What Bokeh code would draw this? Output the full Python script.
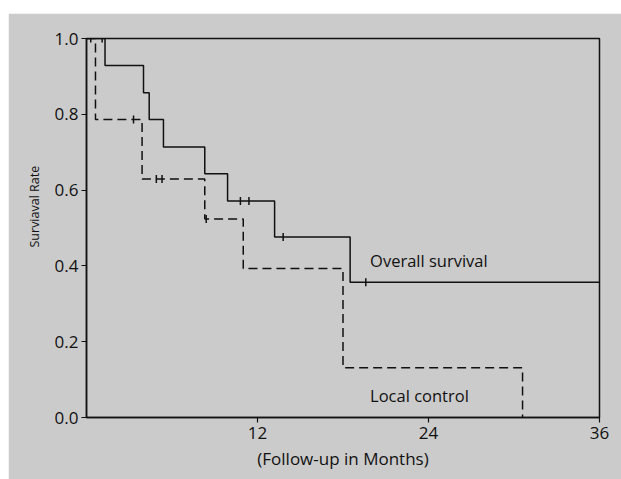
from bokeh.plotting import figure
from bokeh.models import Range1d, FixedTicker, Spacer, Title
from bokeh.layouts import column, row
from bokeh.core.properties import value
from bokeh.embed import file_html
from bokeh.resources import INLINE
import numpy as np

# Kaplan-Meier step data (months, survival rate)
overall_t = [0, 1.3, 4.0, 4.4, 5.4, 8.3, 9.9, 13.2, 18.5, 36]
overall_s = [1.0, 0.929, 0.857, 0.786, 0.714, 0.643, 0.571, 0.476, 0.357, 0.357]
overall_cens_t = [1.1, 10.8, 11.4, 13.8, 19.6]
overall_cens_s = [1.0, 0.571, 0.571, 0.476, 0.357]

local_t = [0, 0.63, 3.9, 8.3, 11.0, 18.0, 30.6]
local_s = [1.0, 0.786, 0.629, 0.524, 0.393, 0.131, 0.0]
local_cens_t = [0.3, 3.3, 4.9, 5.3, 8.4]
local_cens_s = [1.0, 0.786, 0.629, 0.629, 0.524]

x_ticks = [12, 24, 36]
y_ticks = [0.0, 0.2, 0.4, 0.6, 0.8, 1.0]
y_tick_labels = ["0.0", "0.2", "0.4", "0.6", "0.8", "1.0"]

labels_text = ["Overall survival", "Local control"]
labels_x = [19.9, 19.9]
labels_y = [0.414, 0.058]

x_title = "(Follow-up in Months)"
y_title = "Surviaval Rate"

FONT = "Open Sans"
BG = "#cbcbcb"
INK = "#111111"

p = figure(width=613, height=466, output_backend="svg", toolbar_location=None,
           x_range=Range1d(0, 36), y_range=Range1d(0, 1.0),
           min_border_left=78, min_border_right=22, min_border_top=25, min_border_bottom=62)
p.background_fill_color = BG
p.border_fill_color = BG
p.outline_line_color = INK
p.outline_line_width = 1.5
p.xgrid.visible = False
p.ygrid.visible = False

p.step(overall_t, overall_s, mode="after", line_color=INK, line_width=1.5)
p.step(local_t, local_s, mode="after", line_color=INK, line_width=1.5, line_dash="9 5")
p.scatter(overall_cens_t, overall_cens_s, marker="dash", angle=np.pi / 2, size=8,
          line_color=INK, line_width=1.5)
p.scatter(local_cens_t, local_cens_s, marker="dash", angle=np.pi / 2, size=8,
          line_color=INK, line_width=1.5)

p.text(labels_x, labels_y, text=labels_text, text_font=value(FONT), text_font_size="16.5px",
       text_color=INK, text_baseline="middle", text_align="left")

for ax in (p.xaxis[0], p.yaxis[0]):
    ax.axis_line_color = INK
    ax.axis_line_width = 1.5
    ax.major_tick_line_color = INK
    ax.major_tick_line_width = 1.2
    ax.major_tick_out = 5
    ax.major_tick_in = 0
    ax.minor_tick_line_color = None
    ax.major_label_text_font = FONT
    ax.major_label_text_font_size = "17px"
    ax.major_label_text_color = INK
    ax.axis_label_text_font = FONT
    ax.axis_label_text_font_style = "normal"
    ax.axis_label_text_color = INK

p.xaxis.ticker = FixedTicker(ticks=x_ticks)
p.yaxis.ticker = FixedTicker(ticks=y_ticks)
p.yaxis.major_label_overrides = {t: l for t, l in zip(y_ticks, y_tick_labels)}
p.xaxis.major_label_standoff = 4
p.yaxis.major_label_standoff = 3
p.xaxis.axis_label = x_title
p.xaxis.axis_label_text_font_size = "17px"
p.xaxis.axis_label_standoff = 5

# y-axis title as a side title, placed slightly above the frame centre as in the original
p.add_layout(Title(text=y_title, align="left", offset=170, standoff=18,
                   text_font=FONT, text_font_size="12.5px", text_font_style="normal",
                   text_color=INK), "left")

layout = column(Spacer(width=621, height=13), row(Spacer(width=8, height=466), p))
open("out.html", "w").write(file_html(layout, INLINE))
